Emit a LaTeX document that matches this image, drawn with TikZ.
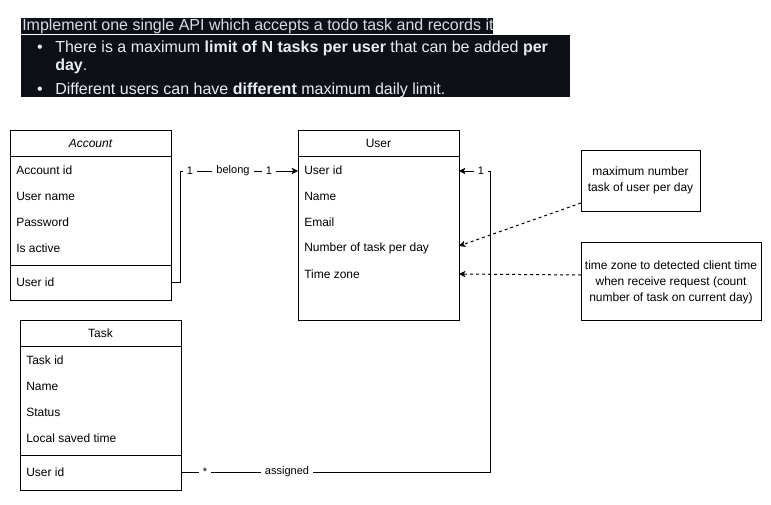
\documentclass[tikz,border=0pt]{standalone}
\usepackage{fontspec}
\setmainfont{Liberation Sans}
\usetikzlibrary{arrows.meta}
\definecolor{ghbg}{HTML}{0D1117}
\definecolor{ghfg}{HTML}{E6EDF3}
\definecolor{ghfg2}{HTML}{D6DCE2}
\begin{document}
\begin{tikzpicture}[x=0.75pt,y=-0.75pt,
  box/.style={draw, line width=0.75pt, inner sep=0pt, anchor=north west},
  fld/.style={anchor=west, inner sep=0pt, font=\fontsize{9}{11}\selectfont},
  ttl/.style={inner sep=0pt, font=\fontsize{9}{11}\selectfont},
  lbl/.style={fill=white, inner xsep=3pt, inner ysep=1pt, font=\fontsize{8.25}{10}\selectfont},
  conn/.style={line width=0.75pt, -{Stealth[length=4.8pt,width=4.8pt,inset=1.2pt]}},
  dconn/.style={line width=0.75pt, dash pattern=on 2.25pt off 2.25pt, -{Stealth[length=4.8pt,width=4.8pt,inset=1.2pt]}},
  notebox/.style={draw, line width=0.75pt, inner sep=0pt, anchor=north west},
  notetxt/.style={align=center, inner sep=0pt, font=\fontsize{9}{12}\selectfont},
  dark/.style={fill=ghbg, inner sep=0pt, anchor=north west},
  big/.style={text=ghfg, inner sep=0pt, font=\fontsize{12}{14}\selectfont}
]
\useasboundingbox (0,0) rectangle (771,504);

% ---- header text block
\node[dark, minimum width=354pt, minimum height=12pt] (hdr) at (21,18) {};
\node[big, anchor=west, text=ghfg2] (hdrtxt) at (22,26) {Implement one single API which accepts a todo task and records it};
\node[dark, minimum width=411.75pt, minimum height=46.5pt] (blk) at (21,35) {};
\node[big, anchor=base] (b1) at (40,52) {•};
\node[big, anchor=base west] (l1) at (55,52) {There is a maximum \textbf{limit of N tasks per user} that can be added \textbf{per}};
\node[big, anchor=base west] (l2) at (55,70) {\textbf{day}.};
\node[big, anchor=base] (b2) at (40,94) {•};
\node[big, anchor=base west] (l3) at (55,94) {Different users can have \textbf{different} maximum daily limit.};

% ---- Account
\node[box, minimum width=120.75pt, minimum height=127.5pt] (acc) at (10,130) {};
\draw[line width=0.75pt] (10,156) -- (171,156);
\node[ttl] (acct) at (90.5,143) {\itshape Account};
\node[fld] (acc1) at (16,170) {Account id};
\node[fld] (acc2) at (16,196) {User name};
\node[fld] (acc3) at (16,222) {Password};
\node[fld] (acc4) at (16,248) {Is active};
\draw[line width=0.75pt] (10,265) -- (171,265);
\node[fld] (acc5) at (16,282) {User id};
\coordinate (accR) at (171,282);

% ---- User
\node[box, minimum width=120.75pt, minimum height=142.5pt] (usr) at (298,130) {};
\draw[line width=0.75pt] (298,156) -- (459,156);
\node[ttl] (usrt) at (378.5,143) {User};
\node[fld] (usr1) at (304,170) {User id};
\node[fld] (usr2) at (304,196) {Name};
\node[fld] (usr3) at (304,222) {Email};
\node[fld] (usr4) at (304,248) {Number of task per day};
\node[fld] (usr5) at (304,274) {Time zone};
\coordinate (usrL1) at (298,171);
\coordinate (usrR1) at (459,171);
\coordinate (usrR4) at (459,246);
\coordinate (usrR5) at (459,274);

% ---- Task
\node[box, minimum width=120.75pt, minimum height=127.5pt] (tsk) at (20,320) {};
\draw[line width=0.75pt] (20,346) -- (181,346);
\node[ttl] (tskt) at (100.5,333) {Task};
\node[fld] (tsk1) at (26,360) {Task id};
\node[fld] (tsk2) at (26,386) {Name};
\node[fld] (tsk3) at (26,412) {Status};
\node[fld] (tsk4) at (26,438) {Local saved time};
\draw[line width=0.75pt] (20,455) -- (181,455);
\node[fld] (tsk5) at (26,472) {User id};
\coordinate (tskR) at (181,472);

% ---- notes
\node[notebox, minimum width=89.25pt, minimum height=45.75pt] (n1) at (581,150) {};
\node[notetxt] (n1t) at (640.5,180.5) {maximum number\\task of user per day};
\node[notebox, minimum width=135pt, minimum height=58.5pt] (n2) at (581,242) {};
\node[notetxt] (n2t) at (671,282) {time zone to detected client time\\when receive request (count\\number of task on current day)};
\coordinate (n1L) at (581,203);
\coordinate (n2L) at (581,275);

% ---- connectors
\coordinate (c1) at (180,282);
\coordinate (c1b) at (180,171);
\draw[conn] (accR) -- (c1) -- (c1b) -- (usrL1);
\node[lbl] (la) at (190,171) {1};
\node[lbl] (lb) at (233,171) {belong};
\node[lbl] (lc) at (269,171) {1};

\coordinate (c2) at (490,472);
\coordinate (c2b) at (490,171);
\draw[conn] (tskR) -- (c2) -- (c2b) -- (usrR1);
\node[lbl] (ld) at (205,472) {*};
\node[lbl] (le) at (287,472) {assigned};
\node[lbl] (lf) at (481,171) {1};

\draw[dconn] (n1L) -- (usrR4);
\draw[dconn] (n2L) -- (usrR5);
\end{tikzpicture}
\end{document}
